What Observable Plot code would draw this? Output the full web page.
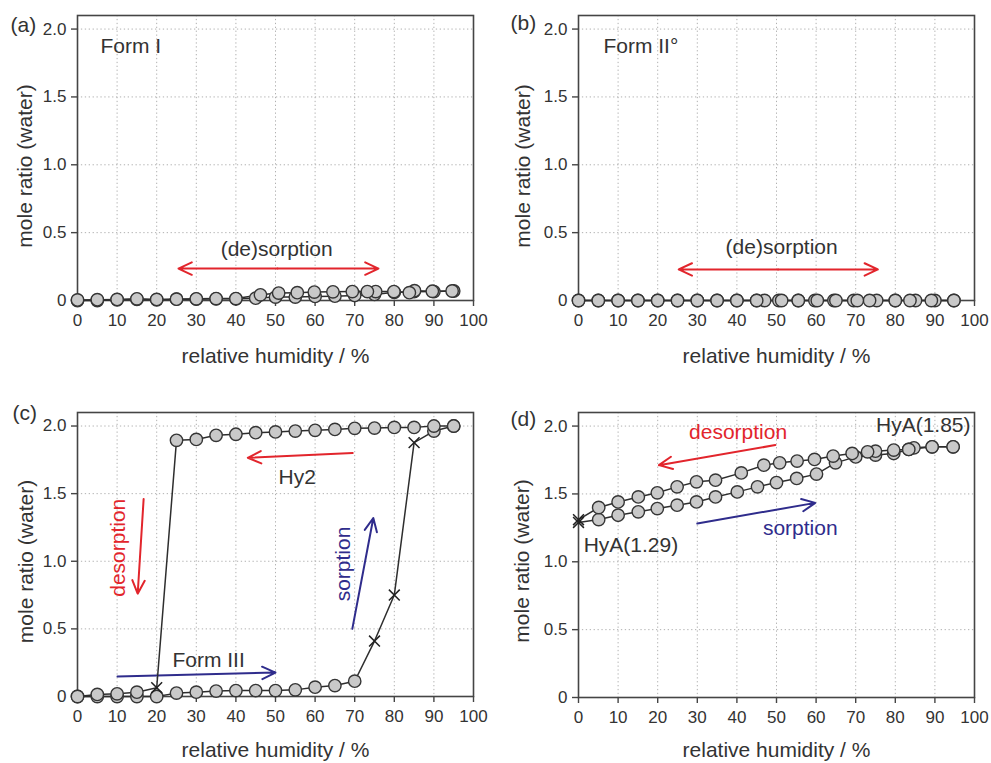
<!DOCTYPE html>
<html><head><meta charset="utf-8">
<script src="https://cdn.jsdelivr.net/npm/d3@7"></script>
<script src="https://cdn.jsdelivr.net/npm/@observablehq/plot@0.6"></script>
<style>
html,body{margin:0;padding:0;background:#fff;}
#wrap{position:relative;width:991px;height:763px;overflow:hidden;background:#fff;}
.panel{position:absolute;}
</style></head><body><div id="wrap"></div>
<script>
// ---------- axis ticks / labels ----------
const xTicks = [0,10,20,30,40,50,60,70,80,90,100];
const yTicks = [0,0.5,1.0,1.5,2.0];
const xLabel = "relative humidity / %";
const yLabel = "mole ratio (water)";

// ---------- (a) Form I ----------
const aSorpRH = [0,5,10,15,20,25,30,35,40,45,50,55,60,65,70,75,80,85,90,95];
const aSorpW  = [0,0,0.005,0.008,0.005,0.01,0.01,0.012,0.012,0.017,0.025,0.025,0.03,0.032,0.037,0.045,0.06,0.065,0.066,0.07];
const aDesRH  = [94.6,89.6,85.1,83.8,79.9,75.3,73.2,69.4,64.5,59.8,55.5,50.8,46.2,40,35,30,25,20,15,10,5,0];
const aDesW   = [0.07,0.068,0.072,0.058,0.066,0.066,0.066,0.066,0.064,0.062,0.058,0.055,0.042,0.014,0.014,0.012,0.01,0.008,0.012,0.008,0.006,0.004];

// ---------- (b) Form II° ----------
const bSorpRH = [0,5,10,15,20,25,30,35,40,45,50.6,55.5,59.7,64.5,69.5,75.3,80,85.1,90,94.8];
const bSorpW  = [0,0,0,0,0,0,0,0,0,0,0,0,0,0,0,0,0,0,0,0];
const bDesRH  = [94.8,89.1,83.7,80,73.5,70.4,65,60.3,55.5,51.3,47,45,40,35,30,25,20,15,10,5,0];
const bDesW   = [0,0,0,0,0,0,0,0,0,0,0,0,0,0,0,0,0,0,0,0,0];

// ---------- (c) Form III / Hy2 ----------
const cSorpRH   = [0,5,10,15,20,25,30,35,40,45,50,55,60,65,70,75,80,85,90,95];
const cSorpW    = [0,0,0,0,0,0.025,0.032,0.04,0.044,0.044,0.044,0.049,0.069,0.081,0.113,0.41,0.75,1.877,1.963,2.0];
const cSorpKind = ["o","o","o","o","o","o","o","o","o","o","o","o","o","o","o","x","x","x","o","o"];
const cDesRH    = [95,90,85,80,75,70,65,60,55,50,45,40,35,30,25,20,15,10,5,0];
const cDesW     = [2.0,2.0,1.99,1.99,1.985,1.983,1.975,1.968,1.963,1.956,1.951,1.939,1.931,1.901,1.894,0.065,0.032,0.02,0.015,0];
const cDesKind  = ["o","o","o","o","o","o","o","o","o","o","o","o","o","o","o","x","o","o","o","o"];

// ---------- (d) HyA ----------
const dSorpRH   = [0,5.1,10,15.1,19.9,24.9,29.8,34.6,40.1,45.2,50,55.1,60.1,64.9,70,75,79.6,83.4,89.3,94.6];
const dSorpW    = [1.29,1.311,1.343,1.368,1.392,1.417,1.441,1.478,1.515,1.552,1.584,1.614,1.646,1.729,1.773,1.786,1.798,1.828,1.847,1.847];
const dSorpKind = ["x","o","o","o","o","o","o","o","o","o","o","o","o","o","o","o","o","o","o","o"];
const dDesRH    = [94.6,89.3,84.7,83.4,79.6,75,73,69.1,64.3,59.6,55.2,50.8,46.8,41.1,34.6,29.8,24.9,19.9,15.1,10,5.1,0];
const dDesW     = [1.847,1.847,1.84,1.828,1.823,1.815,1.81,1.798,1.779,1.754,1.742,1.729,1.712,1.655,1.601,1.589,1.552,1.508,1.478,1.441,1.40,1.31];
const dDesKind  = ["o","o","o","o","o","o","o","o","o","o","o","o","o","o","o","o","o","o","o","o","o","x"];

// ---------- annotations (data units) ----------
const aArrows = [{x1:50.5,y1:0.235,x2:25.5,y2:0.235,k:"des"},{x1:50.5,y1:0.235,x2:76,y2:0.235,k:"des"}];
const aTexts  = [{x:50.3,y:0.375,text:"(de)sorption"},{x:5.8,y:1.87,text:"Form I",anchor:"start"}];
const bArrows = [{x1:50.4,y1:0.229,x2:25.3,y2:0.229,k:"des"},{x1:50.4,y1:0.229,x2:75.6,y2:0.229,k:"des"}];
const bTexts  = [{x:51.3,y:0.39,text:"(de)sorption"},{x:6.3,y:1.87,text:"Form II°",anchor:"start"}];
const cArrows = [
  {x1:69.5,y1:1.80,x2:43,y2:1.765,k:"des"},
  {x1:16.7,y1:1.46,x2:15.2,y2:0.76,k:"des"},
  {x1:69.4,y1:0.50,x2:74.7,y2:1.32,k:"sorp"},
  {x1:10.1,y1:0.148,x2:50,y2:0.177,k:"sorp"}
];
const cTexts  = [
  {x:55.5,y:1.62,text:"Hy2"},
  {x:10.4,y:1.10,text:"desorption",k:"des",rotate:-90},
  {x:67.2,y:0.98,text:"sorption",k:"sorp",rotate:-90},
  {x:33.1,y:0.266,text:"Form III"}
];
const dArrows = [
  {x1:49.7,y1:1.86,x2:20.3,y2:1.712,k:"des"},
  {x1:30,y1:1.282,x2:59.8,y2:1.434,k:"sorp"}
];
const dTexts  = [
  {x:40.3,y:1.958,text:"desorption",k:"des"},
  {x:56,y:1.245,text:"sorption",k:"sorp"},
  {x:1.3,y:1.122,text:"HyA(1.29)",anchor:"start"},
  {x:99,y:2.007,text:"HyA(1.85)",anchor:"end"}
];

// ---------- drawing ----------
const COLORS = {des:"#e2252c", sorp:"#2f2c8c", plain:"#333"};
const FONT = "'Liberation Sans', Arial, Helvetica, sans-serif";

function rows(rh, w, kind) {
  return rh.map((x, i) => ({x, y: w[i], kind: kind ? kind[i] : "o"}));
}

function makePanel(p) {
  const series = p.series;
  const marks = [
    Plot.gridX(xTicks.slice(1, -1), {stroke:"#b0b0b0", strokeOpacity:1, strokeDasharray:"1.3,2.6"}),
    Plot.gridY(yTicks.slice(1), {stroke:"#b0b0b0", strokeOpacity:1, strokeDasharray:"1.3,2.6"}),
    Plot.frame({stroke:"#454545", strokeWidth:1.6}),
    Plot.axisX(xTicks, {tickSize:6, tickPadding:7, fontSize:17, label:null, stroke:"#454545", strokeWidth:1.4, fill:"#333"}),
    Plot.axisY(yTicks, {tickSize:6, tickPadding:5, fontSize:17, label:null, stroke:"#454545", strokeWidth:1.4, fill:"#333",
      tickFormat: d => d === 0 ? "0" : d.toFixed(1)}),
    Plot.text([xLabel], {frameAnchor:"bottom", dy:p.xlabDy, textAnchor:"middle", lineAnchor:"middle", fontSize:21, fill:"#333"}),
    Plot.text([yLabel], {frameAnchor:"left", dx:p.ylabDx, dy:p.ylabDy, rotate:-90, textAnchor:"middle", lineAnchor:"middle", fontSize:21, fill:"#333"}),
    Plot.text([p.tag], {frameAnchor:"top-left", dx:p.tagDx, dy:p.tagDy, textAnchor:"start", lineAnchor:"middle", fontSize:21, fill:"#333"}),
    ...p.arrows.map(a => Plot.arrow([a], {x1:"x1", y1:"y1", x2:"x2", y2:"y2",
      stroke: COLORS[a.k], strokeWidth:2, headLength:11, headAngle:50})),
    ...p.texts.map(t => Plot.text([t], {x:"x", y:"y", text:"text", fill: COLORS[t.k || "plain"],
      rotate: t.rotate || 0, textAnchor: t.anchor || "middle", lineAnchor:"middle", fontSize:21})),
    ...series.map(s => Plot.line(s, {x:"x", y:"y", stroke:"#2e2e2e", strokeWidth:1.5})),
    ...series.map(s => Plot.dot(s.filter(d => d.kind === "o"), {x:"x", y:"y", r:6.2,
      fill:"#c9c9c9", stroke:"#353535", strokeWidth:1.4})),
    ...series.map(s => Plot.dot(s.filter(d => d.kind === "x"), {x:"x", y:"y", r:5, symbol:"times",
      stroke:"#222", strokeWidth:1.5}))
  ];
  const svg = Plot.plot({
    width: p.w, height: p.h,
    marginTop: p.mt, marginBottom: p.mb, marginLeft: p.ml, marginRight: p.mr,
    x: {domain:[0,100]},
    y: {domain:[0,2.1]},
    style: {fontFamily: FONT, fontSize:"17px", color:"#333", background:"transparent", overflow:"visible"},
    marks
  });
  const div = document.createElement("div");
  div.className = "panel";
  div.style.left = p.left + "px";
  div.style.top = p.top + "px";
  div.appendChild(svg);
  document.getElementById("wrap").appendChild(div);
}

makePanel({tag:"(a)", left:0, top:0, w:495, h:380, mt:15, mb:80, ml:77, mr:22,
  tagDx:-67, tagDy:10, ylabDx:-52, ylabDy:8, xlabDy:56,
  series:[rows(aSorpRH, aSorpW), rows(aDesRH, aDesW)], arrows:aArrows, texts:aTexts});
makePanel({tag:"(b)", left:495, top:0, w:496, h:380, mt:15, mb:80, ml:83, mr:17,
  tagDx:-68, tagDy:8, ylabDx:-55, ylabDy:8, xlabDy:56,
  series:[rows(bSorpRH, bSorpW), rows(bDesRH, bDesW)], arrows:bArrows, texts:bTexts});
makePanel({tag:"(c)", left:0, top:380, w:495, h:383, mt:32, mb:67, ml:77, mr:22,
  tagDx:-65, tagDy:1, ylabDx:-51, ylabDy:7, xlabDy:54,
  series:[rows(cSorpRH, cSorpW, cSorpKind), rows(cDesRH, cDesW, cDesKind)], arrows:cArrows, texts:cTexts});
makePanel({tag:"(d)", left:495, top:380, w:496, h:383, mt:32, mb:66, ml:83, mr:17,
  tagDx:-68, tagDy:7, ylabDx:-56, ylabDy:6, xlabDy:53,
  series:[rows(dSorpRH, dSorpW, dSorpKind), rows(dDesRH, dDesW, dDesKind)], arrows:dArrows, texts:dTexts});
</script></body></html>
